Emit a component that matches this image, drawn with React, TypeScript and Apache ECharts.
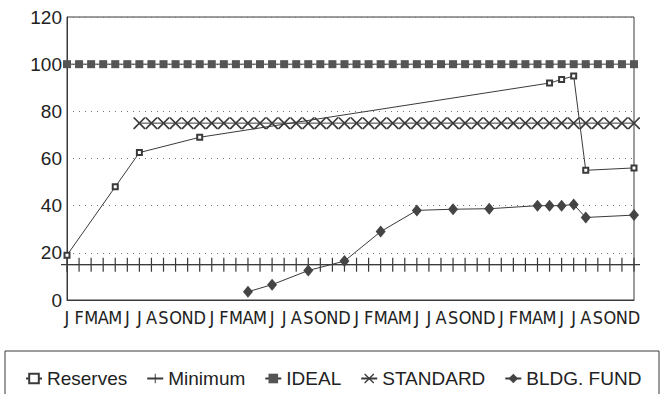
import React, { useEffect, useRef } from "react";
import * as echarts from "echarts";

const months: string[] = [
  "J","F","M","A","M","J","J","A","S","O","N","D",
  "J","F","M","A","M","J","J","A","S","O","N","D",
  "J","F","M","A","M","J","J","A","S","O","N","D",
  "J","F","M","A","M","J","J","A","S","O","N","D",
];

const _ = null;
const reserves: (number | null)[] = [
  19,_,_,_,48,_,62.5,_,_,_,_,69,
  _,_,_,_,_,_,_,_,_,_,_,_,
  _,_,_,_,_,_,_,_,_,_,_,_,
  _,_,_,_,92,93.5,95,55,_,_,_,56,
];
const minimum: number[] = [
  15,15,15,15,15,15,15,15,15,15,15,15,
  15,15,15,15,15,15,15,15,15,15,15,15,
  15,15,15,15,15,15,15,15,15,15,15,15,
  15,15,15,15,15,15,15,15,15,15,15,15,
];
const ideal: number[] = [
  100,100,100,100,100,100,100,100,100,100,100,100,
  100,100,100,100,100,100,100,100,100,100,100,100,
  100,100,100,100,100,100,100,100,100,100,100,100,
  100,100,100,100,100,100,100,100,100,100,100,100,
];
const standard: (number | null)[] = [
  _,_,_,_,_,_,75,75,75,75,75,75,
  75,75,75,75,75,75,75,75,75,75,75,75,
  75,75,75,75,75,75,75,75,75,75,75,75,
  75,75,75,75,75,75,75,75,75,75,75,75,
];
const bldgFund: (number | null)[] = [
  _,_,_,_,_,_,_,_,_,_,_,_,
  _,_,_,3.5,_,6.5,_,_,12.5,_,_,16.5,
  _,_,29,_,_,38,_,_,38.5,_,_,38.7,
  _,_,_,40,40,40,40.5,35,_,_,_,36,
];
const yTicks: number[] = [0, 20, 40, 60, 80, 100, 120];

const INK = "#3a3a3a";
const PLUS = "path://M5.4,0 h1.2 v14 h-1.2 z M0,6.4 h12 v1.2 h-12 z";
const XMARK =
  "path://M0,0 L1.2,0 L12,10.8 L12,12 L10.8,12 L0,1.2 Z M10.8,0 L12,0 L12,1.2 L1.2,12 L0,12 L0,10.8 Z";

export default function App() {
  const ref = useRef<HTMLDivElement>(null);
  useEffect(() => {
    if (!ref.current) return;
    const chart = echarts.init(ref.current, undefined, { renderer: "svg" });
    const font = '"Liberation Sans", Arial, sans-serif';
    const lineBase = {
      type: "line" as const,
      connectNulls: true,
      lineStyle: { color: INK, width: 1 },
      emphasis: { disabled: true },
      silent: true,
    };
    chart.setOption({
      animation: false,
      backgroundColor: "#ffffff",
      textStyle: { fontFamily: font },
      grid: {
        left: 67,
        right: 30,
        top: 17,
        bottom: 94,
        show: true,
        borderColor: INK,
        borderWidth: 1,
        backgroundColor: "transparent",
      },
      legend: {
        left: 20,
        top: 364,
        itemGap: 19,
        itemWidth: 16,
        itemHeight: 12,
        textStyle: { fontSize: 19, color: "#222", fontFamily: font },
        data: ["Reserves", "Minimum", "IDEAL", "STANDARD", "BLDG. FUND"],
      },
      graphic: [
        {
          type: "rect",
          shape: { x: 5, y: 351, width: 654, height: 70 },
          style: { fill: "none", stroke: INK, lineWidth: 1 },
          silent: true,
        },
      ],
      xAxis: {
        type: "category",
        data: months,
        boundaryGap: false,
        axisLine: { lineStyle: { color: INK, width: 1 } },
        axisTick: { show: false },
        axisLabel: {
          interval: 0,
          margin: 8,
          fontSize: 18,
          color: "#222",
          fontFamily: '"Liberation Sans Narrow", "DejaVu Sans Condensed", "Liberation Sans", sans-serif',
        },
        splitLine: { show: false },
      },
      yAxis: {
        type: "value",
        min: yTicks[0],
        max: yTicks[yTicks.length - 1],
        interval: 20,
        axisLine: { show: true, lineStyle: { color: INK, width: 1 } },
        axisTick: { show: false },
        axisLabel: { fontSize: 19, color: "#222", margin: 5 },
        splitLine: { show: true, lineStyle: { color: "#777", type: [1, 5], width: 1 } },
      },
      series: [
        {
          ...lineBase,
          name: "Reserves",
          data: reserves,
          symbol: "emptyRect",
          symbolSize: 5,
          itemStyle: { color: INK, borderColor: INK, borderWidth: 1 },
          z: 5,
        },
        {
          ...lineBase,
          name: "Minimum",
          data: minimum,
          symbol: PLUS,
          symbolSize: [12, 14],
          itemStyle: { color: INK },
          z: 2,
        },
        {
          ...lineBase,
          name: "IDEAL",
          data: ideal,
          symbol: "rect",
          symbolSize: 8,
          itemStyle: { color: "#555555" },
          z: 3,
        },
        {
          ...lineBase,
          name: "STANDARD",
          data: standard,
          symbol: XMARK,
          symbolSize: 12,
          itemStyle: { color: INK },
          z: 3,
        },
        {
          ...lineBase,
          name: "BLDG. FUND",
          data: bldgFund,
          symbol: "diamond",
          symbolSize: [10, 12],
          itemStyle: { color: "#444444" },
          z: 4,
        },
      ],
    });
    return () => chart.dispose();
  }, []);
  return (
    <div
      ref={ref}
      style={{ position: "fixed", left: 0, top: 0, width: 664, height: 394, background: "#fff" }}
    />
  );
}
